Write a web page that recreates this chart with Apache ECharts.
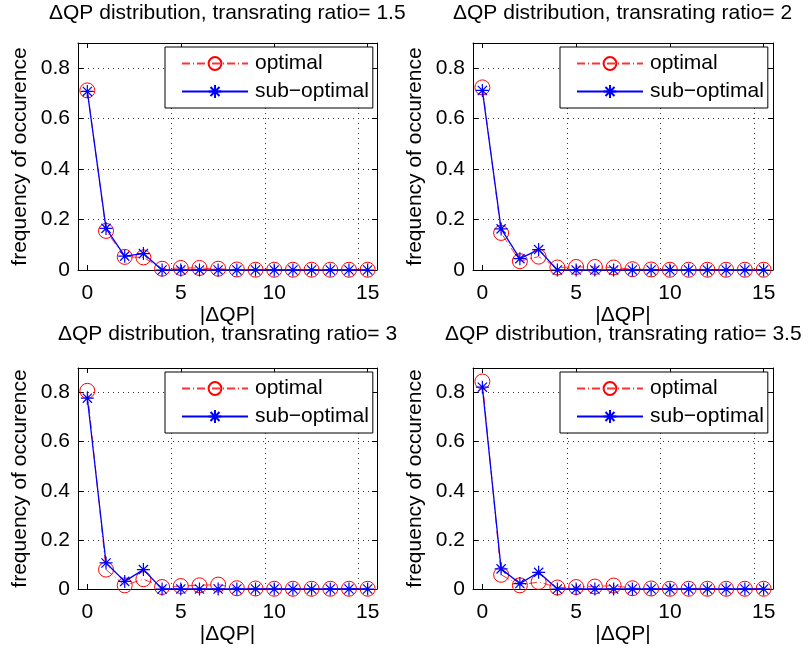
<!DOCTYPE html>
<html>
<head>
<meta charset="utf-8">
<script src="https://cdn.jsdelivr.net/npm/echarts@6/dist/echarts.min.js"></script>
<style>html,body{margin:0;padding:0;background:#fff}#c{width:808px;height:648px}</style>
</head>
<body>
<div id="c"></div>
<script>
var categories = ['0','1','2','3','4','5','6','7','8','9','10','11','12','13','14','15'];
var titles = ['\u0394QP distribution, transrating ratio= 1.5', '\u0394QP distribution, transrating ratio= 2',
              '\u0394QP distribution, transrating ratio= 3', '\u0394QP distribution, transrating ratio= 3.5'];
var optimal15 = [0.712,0.155,0.052,0.050,0.005,0.008,0.008,0.005,0.002,0.001,0.001,0.001,0.001,0.001,0.001,0.001];
var subopt15  = [0.708,0.165,0.055,0.065,0.000,0.000,0.000,0.000,0.000,0.000,0.000,0.000,0.000,0.000,0.000,0.000];
var optimal2  = [0.724,0.147,0.035,0.053,0.010,0.012,0.012,0.010,0.003,0.002,0.001,0.001,0.001,0.001,0.001,0.001];
var subopt2   = [0.712,0.163,0.045,0.081,0.000,0.000,0.000,0.000,0.000,0.000,0.000,0.000,0.000,0.000,0.000,0.000];
var optimal3  = [0.807,0.079,0.015,0.040,0.008,0.012,0.015,0.018,0.003,0.002,0.001,0.001,0.001,0.001,0.001,0.001];
var subopt3   = [0.777,0.106,0.031,0.079,0.000,0.000,0.000,0.000,0.000,0.000,0.000,0.000,0.000,0.000,0.000,0.000];
var optimal35 = [0.845,0.058,0.015,0.029,0.006,0.008,0.010,0.014,0.003,0.002,0.001,0.001,0.001,0.001,0.001,0.001];
var subopt35  = [0.822,0.082,0.022,0.068,0.000,0.000,0.000,0.000,0.000,0.000,0.000,0.000,0.000,0.000,0.000,0.000];
var optSets = [optimal15, optimal2, optimal3, optimal35];
var subSets = [subopt15, subopt2, subopt3, subopt35];
var yTicks = [0, 0.2, 0.4, 0.6, 0.8];

var FONT = 'Liberation Sans, Arial, sans-serif';
var FS = 21;
var TFS = 21;
var grids = [
  {left:78, top:43, width:299, height:227, titleTop:3},
  {left:473, top:43, width:300, height:227, titleTop:3},
  {left:78, top:368, width:299, height:221, titleTop:324},
  {left:473, top:368, width:300, height:221, titleTop:324}
];
var star = 'path://M0,-10L0,10M-10,0L10,0M-7.07,-7.07L7.07,7.07M-7.07,7.07L7.07,-7.07';

var mctx = document.createElement('canvas').getContext('2d');
mctx.font = TFS + 'px ' + FONT;

var option = {animation:false, backgroundColor:'#fff', grid:[], xAxis:[], yAxis:[], series:[], title:[], legend:[]};
grids.forEach(function(g, i){
  option.grid.push({left:g.left, top:g.top, width:g.width, height:g.height, show:false, containLabel:false});
  var tw = mctx.measureText(titles[i]).width;
  option.title.push({text:titles[i], left:Math.round(g.left + g.width/2 - tw/2), top:g.titleTop, padding:0,
    textStyle:{fontFamily:FONT, fontSize:TFS, fontWeight:'normal', color:'#000'}});
  var dotted = {show:true, interval:4, lineStyle:{color:'#333', type:[1,4], width:1}};
  option.xAxis.push({type:'category', gridIndex:i, data:categories, boundaryGap:true, position:'bottom',
    name:'|\u0394QP|', nameLocation:'middle', nameGap:35,
    nameTextStyle:{fontFamily:FONT, fontSize:FS, color:'#000'},
    axisLine:{show:true, onZero:false, lineStyle:{color:'#000', width:1}},
    axisTick:{show:true, inside:true, interval:4, alignWithLabel:true, length:5, lineStyle:{color:'#000'}},
    axisLabel:{interval:4, margin:13, fontFamily:FONT, fontSize:FS, color:'#000'},
    splitLine:dotted});
  option.xAxis.push({type:'category', gridIndex:i, data:categories, boundaryGap:true, position:'top',
    axisLine:{show:true, onZero:false, lineStyle:{color:'#000', width:1}},
    axisTick:{show:true, inside:true, interval:4, alignWithLabel:true, length:5, lineStyle:{color:'#000'}},
    axisLabel:{show:false}, splitLine:{show:false}});
  option.yAxis.push({type:'value', gridIndex:i, min:0, max:0.9, interval:0.2, position:'left',
    name:'frequency of occurence', nameLocation:'middle', nameGap:47,
    nameTextStyle:{fontFamily:FONT, fontSize:FS, color:'#000'},
    axisLine:{show:true, onZero:false, lineStyle:{color:'#000', width:1}},
    axisTick:{show:true, inside:true, length:5, lineStyle:{color:'#000'}},
    axisLabel:{margin:8, fontFamily:FONT, fontSize:FS, color:'#000', showMaxLabel:false,
      formatter:function(v){ return yTicks.indexOf(Math.round(v*10)/10) >= 0 ? String(Math.round(v*10)/10) : ''; }},
    splitLine:{show:true, lineStyle:{color:'#333', type:[1,4], width:1}}});
  option.yAxis.push({type:'value', gridIndex:i, min:0, max:0.9, interval:0.2, position:'right',
    axisLine:{show:true, onZero:false, lineStyle:{color:'#000', width:1}},
    axisTick:{show:true, inside:true, length:5, lineStyle:{color:'#000'}},
    axisLabel:{show:false}, splitLine:{show:false}});
  option.series.push({type:'line', name:'optimal', xAxisIndex:2*i, yAxisIndex:2*i, data:optSets[i],
    symbol:'circle', symbolSize:15, showAllSymbol:true, z:2,
    itemStyle:{color:'rgba(0,0,0,0)', borderColor:'#ff0000', borderWidth:1},
    lineStyle:{color:'#ff3333', width:1, type:[8,3,1,3]}});
  option.series.push({type:'line', name:'sub\u2212optimal', xAxisIndex:2*i, yAxisIndex:2*i, data:subSets[i],
    symbol:star, symbolSize:13, showAllSymbol:true, z:3,
    itemStyle:{color:'#0000ff', borderColor:'#0000ff', borderWidth:1.2},
    lineStyle:{color:'#0000ff', width:1.3}});
  option.legend.push({show:true, orient:'vertical', left:g.left + 87, top:g.top + 4,
    data:[{name:'optimal'},{name:'sub\u2212optimal'}],
    backgroundColor:'#fff', borderColor:'#000', borderWidth:1, borderRadius:0,
    padding:[6,4,6,16], itemGap:7, itemWidth:66, itemHeight:16,
    textStyle:{fontFamily:FONT, fontSize:FS, color:'#000', padding:[0,0,0,2]},
    selectedMode:false});
});
var chart = echarts.init(document.getElementById('c'), null, {renderer:'canvas'});
chart.setOption(option);
</script>
</body>
</html>
